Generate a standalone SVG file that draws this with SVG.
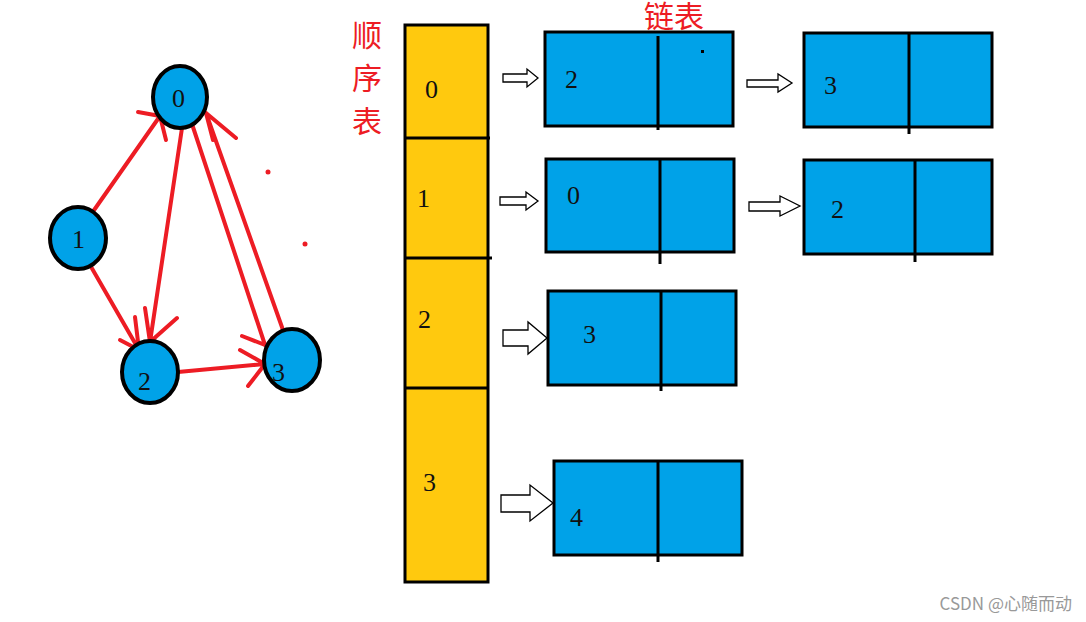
<svg xmlns="http://www.w3.org/2000/svg" width="1086" height="622" viewBox="0 0 1086 622">
<style>
.n{fill:#00a2e8;stroke:#000;stroke-width:4}
.t{font-family:"Liberation Serif",serif;font-size:26px;fill:#111}
.e{stroke:#ed1c24;stroke-width:4;fill:none;stroke-linecap:round}
.b{fill:#00a2e8;stroke:#000;stroke-width:3}
.y{fill:#ffc90e;stroke:#000;stroke-width:3}
.d{stroke:#000;stroke-width:3}
.h{fill:#fff;stroke:#000;stroke-width:1.3}
.c{font-family:"Noto Sans CJK SC",sans-serif;font-size:30px;fill:#ed1c24}
</style>
<rect width="1086" height="622" fill="#fff"/>
<g id="connectors">
<path class="e" d="M92,213L160,116M138,112L160,116L166,140"/>
<path class="e" d="M182,128L150,342M145,308L150,342L177,318"/>
<path class="e" d="M90,265L139,350M120,340L139,350L135,317"/>
<path class="e" d="M178,372L265,364M240,350L265,364L248,386"/>
<path class="e" d="M191,121L265,345M242,336L265,345"/>
<path class="e" d="M283,330L206,113M236,138L206,113L213,140"/>
<circle cx="268" cy="172" r="2.5" fill="#ed1c24"/>
<circle cx="305" cy="244" r="2.5" fill="#ed1c24"/>
</g>
<g id="node0"><ellipse class="n" cx="180" cy="97" rx="27" ry="31"/><text class="t" x="172" y="107" font-size="22">0</text></g>
<g id="node1"><ellipse class="n" cx="78" cy="238" rx="28" ry="31"/><text class="t" x="72" y="248" font-size="22">1</text></g>
<g id="node2"><ellipse class="n" cx="150" cy="372" rx="28" ry="31"/><text class="t" x="138" y="390" font-size="22">2</text></g>
<g id="node3"><ellipse class="n" cx="292" cy="360" rx="28" ry="31"/><text class="t" x="272" y="381" font-size="22">3</text></g>
<g id="labels">
<text class="c" x="352" y="46">顺</text><text class="c" x="352" y="89">序</text><text class="c" x="352" y="132">表</text>
<text class="c" x="644" y="27">链表</text>
</g>
<g id="array">
<rect class="y" x="405" y="25" width="83" height="557"/>
<path class="d" d="M405,138H490M405,258H492M405,388H488"/>
<text class="t" x="425" y="98">0</text><text class="t" x="417" y="207">1</text><text class="t" x="418" y="328">2</text><text class="t" x="423" y="491">3</text>
</g>
<g id="arrows">
<path class="h" d="M503,74H527V69L538,78L527,87V82H503Z"/>
<path class="h" d="M747,80H778V74L792,83L778,92V87H747Z"/>
<path class="h" d="M500,197H526V192L538,201L526,210V205H500Z"/>
<path class="h" d="M749,202H780V196L800,206L780,216V211H749Z"/>
<path class="h" d="M503,330H528V322L547,338L528,354V346H503Z"/>
<path class="h" d="M501,495H530V485L553,503L530,521V512H501Z"/>
</g>
<g id="list0a"><rect class="b" x="545" y="32" width="188" height="94"/><path class="d" d="M658,36V130"/><text class="t" x="565" y="88">2</text><rect x="701" y="50" width="3" height="3"/></g>
<g id="list0b"><rect class="b" x="804" y="33" width="188" height="94"/><path class="d" d="M909,33V134"/><text class="t" x="824" y="94">3</text></g>
<g id="list1a"><rect class="b" x="546" y="159" width="188" height="93"/><path class="d" d="M660,159V264"/><text class="t" x="567" y="204">0</text></g>
<g id="list1b"><rect class="b" x="804" y="160" width="188" height="94"/><path class="d" d="M915,160V262"/><text class="t" x="831" y="218">2</text></g>
<g id="list2"><rect class="b" x="548" y="291" width="188" height="94"/><path class="d" d="M661,291V391"/><text class="t" x="583" y="343">3</text></g>
<g id="list3"><rect class="b" x="554" y="461" width="188" height="94"/><path class="d" d="M658,461V562"/><text class="t" x="570" y="526">4</text></g>
<text x="1072" y="610" text-anchor="end" font-family="'Noto Sans CJK SC',sans-serif" font-size="17" fill="#999">CSDN @心随而动</text>
</svg>
